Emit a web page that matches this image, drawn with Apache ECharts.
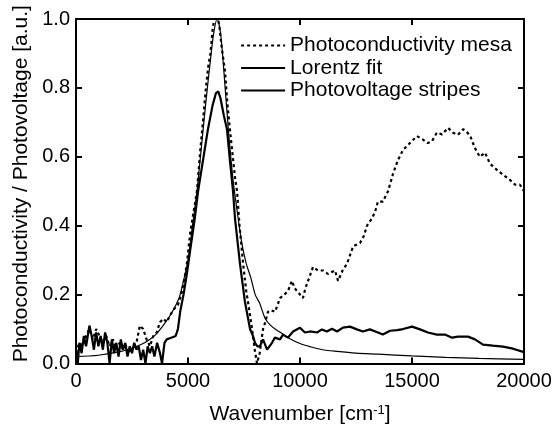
<!DOCTYPE html>
<html>
<head>
<meta charset="utf-8">
<script src="https://cdn.jsdelivr.net/npm/echarts@6/dist/echarts.min.js"></script>
<style>
html,body{margin:0;padding:0;background:#fff;}
#chart{width:556px;height:430px;}
</style>
</head>
<body>
<div id="chart"></div>
<script>
// Wavenumber ticks
var xTicks = [0, 5000, 10000, 15000, 20000];
var yTicks = [0.0, 0.2, 0.4, 0.6, 0.8, 1.0];

// Photoconductivity mesa (dotted)
var mesaX = [0,150,300,450,600,750,900,1050,1200,1350,1500,1650,1800,1950,2100,2250,2400,2550,2700,2850,3000,3150,3300,3450,3600,3750,3900,4050,4200,4400,4550,4700,4850,4950,5100,5200,5300,5400,5550,5650,5800,5900,6000,6100,6250,6400,6500,6650,6750,6870,7000,7100,7190,7300,7460,7600,7700,7860,7980,8080,8200,8350,8450,8570,8700,8880,9000,9110,9300,9460,9640,9750,9870,10000,10130,10250,10360,10580,10800,11030,11250,11400,11560,11700,11900,12100,12370,12680,12850,12990,13200,13350,13480,13700,13930,14150,14370,14600,14910,15220,15490,15700,15890,16110,16340,16610,16830,17050,17280,17450,17600,17720,17850,18030,18260,18480,18790,19060,19370,19600,19820,20000];
var mesaY = [0.03,0.06,0.05,0.08,0.10,0.07,0.10,0.08,0.06,0.08,0.05,0.07,0.04,0.06,0.04,0.05,0.03,0.05,0.06,0.11,0.10,0.07,0.05,0.08,0.09,0.12,0.13,0.12,0.14,0.16,0.17,0.20,0.25,0.29,0.38,0.42,0.46,0.50,0.62,0.69,0.80,0.86,0.90,0.97,1.03,0.98,0.92,0.85,0.76,0.68,0.60,0.54,0.50,0.40,0.29,0.21,0.17,0.10,0.04,0.00,0.03,0.10,0.12,0.15,0.155,0.15,0.17,0.19,0.20,0.21,0.24,0.22,0.21,0.20,0.19,0.22,0.24,0.28,0.27,0.27,0.26,0.265,0.27,0.24,0.27,0.29,0.34,0.35,0.37,0.40,0.42,0.44,0.47,0.47,0.50,0.55,0.59,0.62,0.64,0.66,0.65,0.64,0.645,0.67,0.665,0.684,0.67,0.664,0.68,0.672,0.66,0.64,0.62,0.60,0.612,0.58,0.562,0.548,0.533,0.519,0.519,0.50];

// Lorentz fit (thin solid)
var fitX = [0,1000,2000,2500,3000,3500,4000,4300,4600,4800,5000,5200,5400,5600,5800,6000,6150,6300,6450,6600,6800,7000,7200,7400,7600,7800,8000,8200,8450,8700,9000,9250,9550,10000,10500,11000,11650,12500,13500,15000,16500,18000,20000];
var fitY = [0.02,0.024,0.035,0.045,0.058,0.08,0.12,0.15,0.19,0.24,0.30,0.40,0.50,0.63,0.76,0.88,0.96,1.00,0.96,0.85,0.68,0.54,0.44,0.35,0.29,0.25,0.20,0.175,0.13,0.11,0.095,0.085,0.072,0.058,0.048,0.04,0.035,0.03,0.027,0.022,0.018,0.015,0.012];

// Photovoltage stripes (thick solid)
var stripesX = [0,80,150,250,350,450,600,700,800,900,1000,1100,1200,1300,1400,1500,1600,1700,1800,1900,2000,2100,2200,2300,2400,2500,2600,2700,2800,2900,3000,3100,3200,3300,3400,3500,3620,3750,3840,3950,4050,4250,4450,4550,4650,4800,4950,5100,5300,5450,5670,5890,6100,6250,6350,6450,6600,6740,6870,7010,7100,7320,7540,7770,7900,7990,8100,8210,8350,8530,8750,8880,9110,9240,9460,9690,10000,10220,10450,10760,10980,11200,11430,11650,11920,12230,12540,12810,13120,13480,13700,14020,14330,14600,15000,15360,15710,16110,16470,16790,17050,17500,17810,18170,18610,19060,19510,20000];
var stripesY = [0.04,0.00,0.06,0.03,0.08,0.05,0.11,0.08,0.04,0.09,0.05,0.08,0.04,0.09,0.06,0.00,0.07,0.03,0.06,0.02,0.07,0.04,0.06,0.02,0.05,0.03,0.06,0.04,0.05,0.01,0.04,0.00,0.05,0.03,0.05,0.02,0.06,0.03,0.00,0.06,0.07,0.075,0.08,0.10,0.15,0.20,0.26,0.33,0.42,0.50,0.59,0.68,0.75,0.785,0.79,0.77,0.72,0.68,0.59,0.50,0.42,0.29,0.18,0.10,0.08,0.06,0.05,0.05,0.07,0.04,0.06,0.075,0.07,0.084,0.075,0.093,0.104,0.09,0.093,0.09,0.099,0.093,0.101,0.093,0.104,0.107,0.099,0.093,0.099,0.09,0.084,0.095,0.097,0.10,0.107,0.099,0.09,0.084,0.084,0.075,0.078,0.078,0.07,0.055,0.052,0.049,0.043,0.033];

function zip(xs, ys){ return xs.map(function(x,i){ return [x, ys[i]]; }); }

var FONT = 'Liberation Sans';
var chart = echarts.init(document.getElementById('chart'), null, {renderer:'canvas'});

var baseX = {
  type:'value', min:xTicks[0], max:xTicks[xTicks.length-1], interval:5000,
  axisLine:{show:true, onZero:false, lineStyle:{color:'#000', width:2}},
  axisTick:{show:true, inside:true, length:6, lineStyle:{color:'#000', width:2}},
  splitLine:{show:false}
};
var baseY = {
  type:'value', min:yTicks[0], max:yTicks[yTicks.length-1], interval:0.2,
  axisLine:{show:true, onZero:false, lineStyle:{color:'#000', width:2}},
  axisTick:{show:true, inside:true, length:6, lineStyle:{color:'#000', width:2}},
  splitLine:{show:false}
};

chart.setOption({
  animation:false,
  backgroundColor:'#fff',
  textStyle:{fontFamily:FONT},
  grid:{left:76, right:32, top:19, bottom:66, containLabel:false},
  legend:{
    orient:'vertical', left:235, top:30, itemWidth:44, itemHeight:14, itemGap:1.5,
    itemStyle:{opacity:0, borderWidth:0},
    textStyle:{fontFamily:FONT, fontSize:21, color:'#000', lineHeight:21},
    data:[
      {name:'Photoconductivity mesa', lineStyle:{width:2.2}},
      {name:'Lorentz fit', lineStyle:{width:2}},
      {name:'Photovoltage stripes', lineStyle:{width:2.2}}
    ]
  },
  xAxis:[
    Object.assign({}, baseX, {
      position:'bottom',
      axisLabel:{show:true, color:'#000', fontSize:20, fontFamily:FONT, margin:8, formatter:function(v){return String(v);}},
      name:'{a|Wavenumber [cm}{s|-1}{a|]}', nameLocation:'middle', nameGap:40,
      nameTextStyle:{rich:{a:{fontSize:21, fontFamily:FONT, color:'#000'}, s:{fontSize:13, fontFamily:FONT, color:'#000', verticalAlign:'top', padding:[0,0,9,0]}}}
    }),
    Object.assign({}, baseX, {position:'top', axisLabel:{show:false}})
  ],
  yAxis:[
    Object.assign({}, baseY, {
      position:'left',
      axisLabel:{show:true, color:'#000', fontSize:20, fontFamily:FONT, margin:6, formatter:function(v){return v.toFixed(1);}},
      name:'Photoconductivity / Photovoltage [a.u.]', nameLocation:'middle', nameGap:42,
      nameTextStyle:{fontSize:21, fontFamily:FONT, color:'#000', padding:[0,0,0,15]}
    }),
    Object.assign({}, baseY, {position:'right', axisLabel:{show:false}})
  ],
  series:[
    {name:'Photoconductivity mesa', type:'line', data:zip(mesaX, mesaY), symbol:'none', clip:true,
     lineStyle:{color:'#000', width:2.2, type:[3,3]}, itemStyle:{color:'#000'}},
    {name:'Lorentz fit', type:'line', data:zip(fitX, fitY), symbol:'none', smooth:0.3, clip:true,
     lineStyle:{color:'#000', width:1.2}, itemStyle:{color:'#000'}},
    {name:'Photovoltage stripes', type:'line', data:zip(stripesX, stripesY), symbol:'none', clip:true,
     lineStyle:{color:'#000', width:2.2}, itemStyle:{color:'#000'}}
  ]
});
</script>
</body>
</html>
